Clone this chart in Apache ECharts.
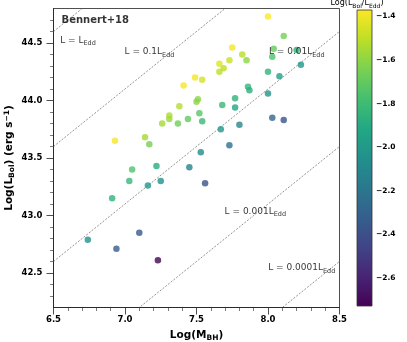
<!DOCTYPE html>
<html>
<head>
<meta charset="utf-8">
<script src="https://cdn.jsdelivr.net/npm/echarts@6/dist/echarts.min.js"></script>
<style>
    html, body { margin: 0; padding: 0; background: #fff; }
    #chart { width: 407px; height: 342px; }
</style>
</head>
<body>
<div id="chart"></div>
<script>
// data
const logMbh = [8.00, 8.11, 7.75, 8.04, 8.20, 7.82, 8.03, 7.85, 7.73, 7.66, 8.23, 7.69, 7.66, 8.00, 8.08, 7.49, 7.54, 7.41, 7.86, 7.87,
    8.00, 7.77, 7.51, 7.50, 7.68, 7.38, 7.77, 7.52, 7.31, 7.31, 7.44, 7.54, 7.26, 7.37, 8.03, 8.11, 7.80, 7.67, 7.14, 6.93,
    7.17, 7.53, 7.73, 7.05, 7.22, 7.03, 7.16, 7.25, 7.45, 7.56, 6.91, 7.10, 6.74, 6.94, 7.23];
const logLbol = [44.73, 44.56, 44.46, 44.45, 44.44, 44.40, 44.38, 44.35, 44.35, 44.32, 44.31, 44.28, 44.25, 44.25, 44.21, 44.20, 44.18, 44.13, 44.12, 44.09,
    44.06, 44.02, 44.01, 43.99, 43.96, 43.95, 43.94, 43.89, 43.87, 43.84, 43.84, 43.82, 43.80, 43.80, 43.85, 43.83, 43.79, 43.75, 43.68, 43.65,
    43.62, 43.55, 43.61, 43.40, 43.43, 43.30, 43.26, 43.30, 43.42, 43.28, 43.15, 42.85, 42.79, 42.71, 42.61];

// L_Edd = 1.26e38 M  ->  log L_Edd = log M + 38.1
const EDD_OFFSET = 38.1;
const eddRatio = logLbol.map((l, i) => +(l - logMbh[i] - EDD_OFFSET).toFixed(3));

// log of L / L_Edd for the guide lines
const eddFractions = [0, -1, -2, -3, -4];

// tick labels
const xMajor = [6.5, 7.0, 7.5, 8.0, 8.5];
const yMajor = [42.5, 43.0, 43.5, 44.0, 44.5];
const yMinor = [42.3, 42.4, 42.6, 42.7, 42.8, 42.9, 43.1, 43.2, 43.3, 43.4, 43.6, 43.7, 43.8, 43.9,
    44.1, 44.2, 44.3, 44.4, 44.6, 44.7];
const cbTicks = [-2.6, -2.4, -2.2, -2.0, -1.8, -1.6, -1.4];
const cbRange = [-2.73, -1.37];

const viridis = ['#440154', '#482475', '#414487', '#355f8d', '#2a788e', '#21918c', '#22a884', '#44bf70', '#7ad151', '#bddf26', '#fde725'];

const FONT = 'DejaVu Sans';
const minus = v => v.toFixed(1).replace('-', '\u2212');

const notes = [
    { at: [6.55, 44.51], text: '{t|L = L}{s|Edd}' },
    { at: [7.0, 44.41], text: '{t|L = 0.1L}{s|Edd}' },
    { at: [8.01, 44.41], text: '{t|L = 0.01L}{s|Edd}' },
    { at: [7.70, 43.02], text: '{t|L = 0.001L}{s|Edd}' },
    { at: [8.005, 42.53], text: '{t|L = 0.0001L}{s|Edd}' },
    { at: [6.56, 44.69], text: '{b|Bennert+18}' }
];

const subRich = {
    t: { fontFamily: FONT, fontSize: 9, color: '#000', lineHeight: 11, verticalAlign: 'top' },
    s: { fontFamily: FONT, fontSize: 6.5, color: '#000', lineHeight: 8, verticalAlign: 'bottom', padding: [5, 0, 0, 0] },
    b: { fontFamily: FONT, fontSize: 10, fontWeight: 'bold', color: '#000' }
};

const chart = echarts.init(document.getElementById('chart'));

const guideLines = eddFractions.map(f => ({
    type: 'line',
    xAxisIndex: 0,
    yAxisIndex: 0,
    data: [xMajor[0], xMajor[xMajor.length - 1]].map(m => [m, m + EDD_OFFSET + f]),
    showSymbol: false,
    silent: true,
    clip: true,
    z: 1,
    lineStyle: { color: '#666', width: 0.7, type: [2, 1.5] }
}));

const option = {
    animation: false,
    backgroundColor: '#fff',
    grid: [
        { left: 53.5, right: 67.5, top: 8.5, bottom: 34.5, show: true, borderColor: '#222', borderWidth: 0.8, outerBoundsMode: 'none' },
        { left: 357, width: 15, top: 10, bottom: 36, outerBoundsMode: 'none' }
    ],
    xAxis: [
        {
            type: 'value', gridIndex: 0, min: 6.5, max: 8.5, interval: 0.5,
            name: '{t|Log(M}{s|BH}{t|)}', nameLocation: 'middle', nameGap: 21,
            nameTextStyle: {
                rich: {
                    t: { fontFamily: FONT, fontSize: 10.5, fontWeight: 'bold', color: '#000', lineHeight: 13, verticalAlign: 'top' },
                    s: { fontFamily: FONT, fontSize: 7.5, fontWeight: 'bold', color: '#000', lineHeight: 9, verticalAlign: 'bottom', padding: [5, 0, 0, 0] }
                }
            },
            axisLine: { lineStyle: { color: '#222', width: 0.8 } },
            axisTick: { length: 7, lineStyle: { color: '#222', width: 0.8 }, customValues: xMajor },
            minorTick: { show: true, splitNumber: 5, length: 3.5, lineStyle: { color: '#222', width: 0.6 } },
            axisLabel: { customValues: xMajor, margin: 8, fontFamily: FONT, fontSize: 8.5, fontWeight: 'bold', color: '#000', formatter: v => v.toFixed(1) },
            splitLine: { show: false }
        },
        { type: 'value', gridIndex: 1, min: 0, max: 1, show: false }
    ],
    yAxis: [
        {
            type: 'value', gridIndex: 0, min: 42.2, max: 44.8, position: 'left',
            name: '{t|Log(L}{s|Bol}{t|) (erg s}{p|\u22121}{t|)}', nameLocation: 'middle', nameRotate: 90, nameGap: 37,
            nameMoveOverlap: false,
            nameTextStyle: {
                rich: {
                    t: { fontFamily: FONT, fontSize: 10.5, fontWeight: 'bold', color: '#000', lineHeight: 13, verticalAlign: 'top' },
                    s: { fontFamily: FONT, fontSize: 7.5, fontWeight: 'bold', color: '#000', lineHeight: 9, verticalAlign: 'bottom', padding: [5, 0, 0, 0] },
                    p: { fontFamily: FONT, fontSize: 7.5, fontWeight: 'bold', color: '#000', lineHeight: 9, verticalAlign: 'top' }
                }
            },
            axisLine: { show: true, lineStyle: { color: '#222', width: 0.8 } },
            axisTick: { show: true, length: 7, lineStyle: { color: '#222', width: 0.8 }, customValues: yMajor },
            axisLabel: { customValues: yMajor, margin: 11, fontFamily: FONT, fontSize: 8.5, fontWeight: 'bold', color: '#000', formatter: v => v.toFixed(1) },
            splitLine: { show: false }
        },
        {
            type: 'value', gridIndex: 0, min: 42.2, max: 44.8, position: 'left',
            axisLine: { show: false },
            axisTick: { show: true, length: 3.5, lineStyle: { color: '#222', width: 0.6 }, customValues: yMinor },
            axisLabel: { show: false },
            splitLine: { show: false }
        },
        {
            type: 'value', gridIndex: 1, min: cbRange[0], max: cbRange[1], position: 'right',
            name: '{t|Log(L}{s|Bol}{t|/L}{s|Edd}{t|)}', nameLocation: 'end', nameGap: 1,
            nameTextStyle: {
                rich: {
                    t: { fontFamily: FONT, fontSize: 8, color: '#000', lineHeight: 10, verticalAlign: 'top' },
                    s: { fontFamily: FONT, fontSize: 6, color: '#000', lineHeight: 7, verticalAlign: 'bottom', padding: [4, 0, 0, 0] }
                }
            },
            axisLine: { show: false },
            axisTick: { show: true, length: 3.5, lineStyle: { color: '#222', width: 0.8 }, customValues: cbTicks },
            axisLabel: { customValues: cbTicks, margin: 4, fontFamily: FONT, fontSize: 7.5, fontWeight: 'bold', color: '#000', formatter: minus },
            splitLine: { show: false }
        }
    ],
    visualMap: {
        type: 'continuous',
        show: false,
        seriesIndex: 0,
        dimension: 2,
        min: cbRange[0],
        max: cbRange[1],
        inRange: { color: viridis }
    },
    series: [
        {
            type: 'scatter',
            xAxisIndex: 0,
            yAxisIndex: 0,
            symbolSize: 6.5,
            z: 3,
            data: logMbh.map((m, i) => [m, logLbol[i], eddRatio[i]])
        },
        ...guideLines,
        {
            type: 'scatter',
            xAxisIndex: 0,
            yAxisIndex: 0,
            symbolSize: 1,
            itemStyle: { color: 'rgba(0,0,0,0)' },
            silent: true,
            z: 5,
            data: notes.map(n => ({ value: n.at, label: { formatter: n.text } })),
            label: { show: true, position: [0, 0], align: 'left', verticalAlign: 'middle', rich: subRich }
        },
        {
            type: 'custom',
            xAxisIndex: 1,
            yAxisIndex: 2,
            silent: true,
            data: [[0, cbRange[0], 1, cbRange[1]]],
            encode: { x: [0, 2], y: [1, 3] },
            renderItem: (params, api) => {
                const p0 = api.coord([api.value(0), api.value(3)]);
                const p1 = api.coord([api.value(2), api.value(1)]);
                return {
                    type: 'rect',
                    shape: { x: p0[0], y: p0[1], width: p1[0] - p0[0], height: p1[1] - p0[1] },
                    style: {
                        fill: new echarts.graphic.LinearGradient(0, 1, 0, 0,
                            viridis.map((c, i) => ({ offset: i / (viridis.length - 1), color: c }))),
                        stroke: '#333',
                        lineWidth: 0.8
                    }
                };
            }
        }
    ]
};

chart.setOption(option);
</script>
</body>
</html>
